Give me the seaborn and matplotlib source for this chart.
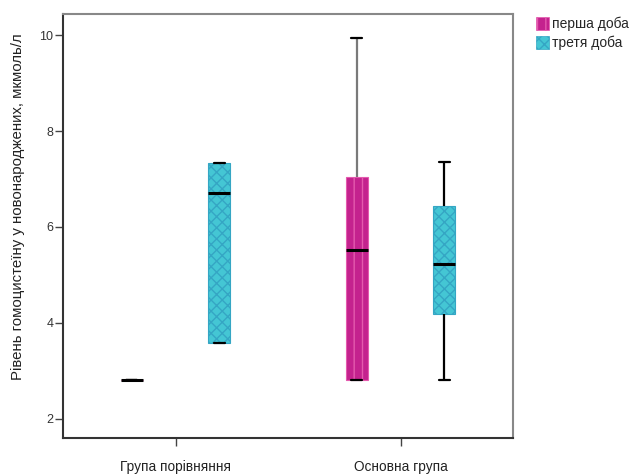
import numpy as np
import pandas as pd
import matplotlib
matplotlib.use("Agg")
import matplotlib.pyplot as plt
import matplotlib.patches as mpatches
import seaborn as sns

# ---- data ----
groups = ["Група порівняння", "Основна група"]
days = ["перша доба", "третя доба"]
g1_day1 = [2.8, 2.8, 2.8, 2.8, 2.8]
g1_day3 = [3.58, 3.58, 6.7, 7.33, 7.33]
g2_day1 = [2.8, 2.8, 5.52, 7.04, 9.94]
g2_day3 = [2.8, 4.19, 5.23, 6.44, 7.35]
y_ticks = [2, 4, 6, 8, 10]
y_label = "Рівень гомоцистеїну у новонароджених, мкмоль/л"

rows = []
for g, d, vals in [(groups[0], days[0], g1_day1), (groups[0], days[1], g1_day3),
                   (groups[1], days[0], g2_day1), (groups[1], days[1], g2_day3)]:
    for v in vals:
        rows.append({"group": g, "day": d, "value": v})
df = pd.DataFrame(rows)

sns.set_theme(style="white")
plt.rcParams["font.family"] = ["Liberation Sans", "DejaVu Sans"]

fill = {"перша доба": "#C4228E", "третя доба": "#44C6D4"}
hatch_col = {"перша доба": "#E45AAE", "третя доба": "#35A6C4"}
hatch_pat = {"перша доба": "||", "третя доба": "xxx"}

fig = plt.figure(figsize=(6.36, 4.74), dpi=100)
ax = fig.add_axes([63/636, 1-438/474, 450/636, 424/474])

sns.boxplot(data=df, x="group", y="value", hue="day", order=groups, hue_order=days,
            palette=fill, width=0.78, gap=0.75, dodge=True, whis=1.5, fliersize=0,
            linecolor="black", linewidth=1.3, saturation=1,
            medianprops=dict(color="black", linewidth=2.2),
            capprops=dict(color="black", linewidth=1.6),
            whiskerprops=dict(color="black", linewidth=1.6),
            legend=False, ax=ax)

for p in ax.patches:
    fc = p.get_facecolor()
    for d in days:
        c = matplotlib.colors.to_rgba(fill[d])
        if np.allclose(fc[:3], c[:3], atol=0.02):
            p.set_hatch(hatch_pat[d])
            p.set_edgecolor(hatch_col[d])
            p.set_linewidth(0.8)

# whisker of the magenta box in the second group is grey in the reference
for ln in ax.lines:
    xd = np.asarray(ln.get_xdata(), dtype=float)
    yd = np.asarray(ln.get_ydata(), dtype=float)
    if len(xd) == 2 and np.isclose(xd[0], xd[1]) and not np.isclose(yd[0], yd[1]):
        if 0.7 < xd[0] < 0.9:
            ln.set_color("#7a7a7a")

ax.set_ylim(1.6, 10.44)
ax.set_xlim(-0.5, 1.5)
ax.set_yticks(y_ticks)
ax.set_yticklabels([str(t) for t in y_ticks], fontsize=9, color="#333333")
ax.set_xticks([0, 1])
ax.set_xticklabels(groups, fontsize=9.8, color="#222222")
ax.set_xlabel("")
ax.set_ylabel(y_label, fontsize=10.8, color="#222222")
ax.yaxis.set_label_coords(-0.085, 0.545)
ax.tick_params(axis="both", which="both", direction="out", length=6, width=1,
               color="#444444", left=True, bottom=True)
ax.tick_params(axis="x", pad=10)
ax.tick_params(axis="y", pad=1)

for s in ["left", "bottom"]:
    ax.spines[s].set_color("#333333")
    ax.spines[s].set_linewidth(1.5)
for s in ["top", "right"]:
    ax.spines[s].set_color("#888888")
    ax.spines[s].set_linewidth(1.5)

handles = [mpatches.Patch(facecolor=fill[d], edgecolor=hatch_col[d], hatch=hatch_pat[d],
                          linewidth=0.5, label=d) for d in days]
fig.legend(handles=handles, loc="upper left", bbox_to_anchor=(536/636, 1-17/474),
           frameon=False, handlelength=0.9, handleheight=1.0,
           handletextpad=0.25, labelspacing=0.3, borderaxespad=0, borderpad=0,
           prop={"size": 10, "weight": "medium"})

fig.savefig("out.png", dpi=100)
